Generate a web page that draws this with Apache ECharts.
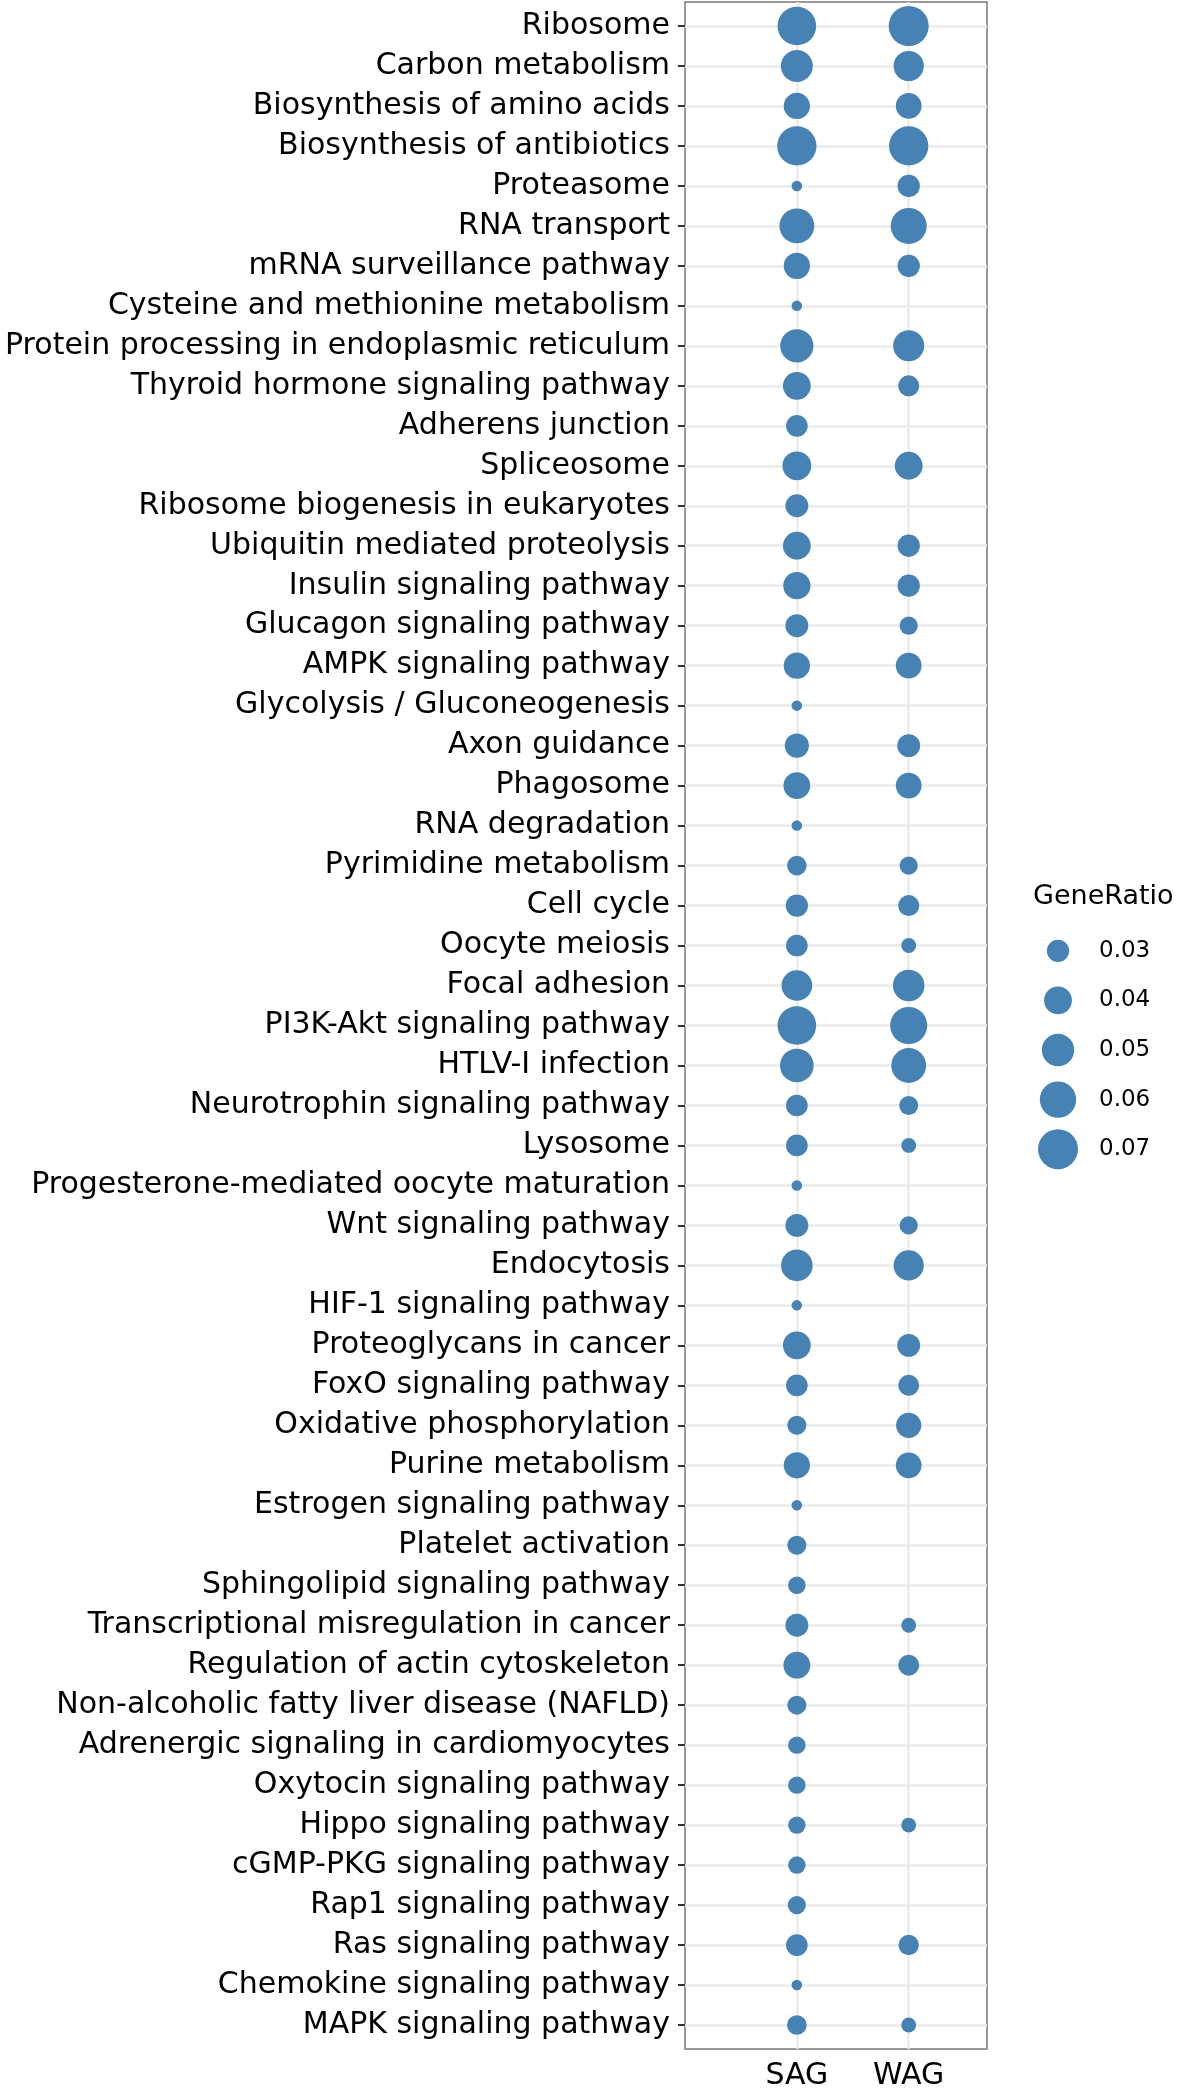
<!DOCTYPE html>
<html>
<head>
<meta charset="utf-8">
<title>KEGG enrichment dot plot</title>
<script src="https://cdn.jsdelivr.net/npm/echarts@6/dist/echarts.min.js"></script>
<style>
html, body { margin: 0; padding: 0; background: #fff; }
#main { width: 1179px; height: 2091px; }
</style>
</head>
<body>
<div id="main"></div>
<script>
// pathway names, top to bottom
const pathways = [
    'Ribosome', 'Carbon metabolism', 'Biosynthesis of amino acids', 'Biosynthesis of antibiotics',
    'Proteasome', 'RNA transport', 'mRNA surveillance pathway', 'Cysteine and methionine metabolism',
    'Protein processing in endoplasmic reticulum', 'Thyroid hormone signaling pathway', 'Adherens junction',
    'Spliceosome', 'Ribosome biogenesis in eukaryotes', 'Ubiquitin mediated proteolysis',
    'Insulin signaling pathway', 'Glucagon signaling pathway', 'AMPK signaling pathway',
    'Glycolysis / Gluconeogenesis', 'Axon guidance', 'Phagosome', 'RNA degradation',
    'Pyrimidine metabolism', 'Cell cycle', 'Oocyte meiosis', 'Focal adhesion',
    'PI3K-Akt signaling pathway', 'HTLV-I infection', 'Neurotrophin signaling pathway', 'Lysosome',
    'Progesterone-mediated oocyte maturation', 'Wnt signaling pathway', 'Endocytosis',
    'HIF-1 signaling pathway', 'Proteoglycans in cancer', 'FoxO signaling pathway',
    'Oxidative phosphorylation', 'Purine metabolism', 'Estrogen signaling pathway',
    'Platelet activation', 'Sphingolipid signaling pathway', 'Transcriptional misregulation in cancer',
    'Regulation of actin cytoskeleton', 'Non-alcoholic fatty liver disease (NAFLD)',
    'Adrenergic signaling in cardiomyocytes', 'Oxytocin signaling pathway', 'Hippo signaling pathway',
    'cGMP-PKG signaling pathway', 'Rap1 signaling pathway', 'Ras signaling pathway',
    'Chemokine signaling pathway', 'MAPK signaling pathway'
];
const groups = ['SAG', 'WAG'];

// GeneRatio per pathway (null = not enriched)
const sagRatio = [
    0.066, 0.049, 0.037, 0.068, 0.016, 0.056, 0.037, 0.016, 0.052, 0.040,
    0.029, 0.042, 0.031, 0.040, 0.039, 0.031, 0.037, 0.016, 0.033, 0.038,
    0.016, 0.026, 0.030, 0.029, 0.046, 0.066, 0.053, 0.029, 0.029, 0.016,
    0.031, 0.048, 0.016, 0.040, 0.029, 0.025, 0.037, 0.016, 0.025, 0.023,
    0.031, 0.038, 0.025, 0.023, 0.023, 0.023, 0.023, 0.024, 0.029, 0.016,
    0.026
];
const wagRatio = [
    0.070, 0.045, 0.036, 0.068, 0.030, 0.059, 0.030, null, 0.047, 0.028,
    null, 0.040, null, 0.030, 0.030, 0.024, 0.036, null, 0.031, 0.036,
    null, 0.024, 0.028, 0.020, 0.048, 0.062, 0.056, 0.025, 0.020, null,
    0.024, 0.045, null, 0.031, 0.028, 0.035, 0.036, null, null, null,
    0.020, 0.028, null, null, null, 0.020, null, null, 0.027, null,
    0.020
];
const legendValues = [0.03, 0.04, 0.05, 0.06, 0.07];

// size scale: diameter^2 grows linearly with GeneRatio
function dotSize(v) {
    return Math.sqrt(Math.max(27600 * v - 331, 16));
}

let points = [];
pathways.forEach((p, i) => {
    [sagRatio, wagRatio].forEach((arr, g) => {
        if (arr[i] != null) {
            points.push([g + 1, i, arr[i]]);
        }
    });
});

const font = 'DejaVu Sans';
const rowIdx = pathways.map((p, i) => i);

var chart = echarts.init(document.getElementById('main'));
var option = {
    animation: false,
    backgroundColor: '#fff',
    textStyle: { fontFamily: font },
    title: {
        text: 'GeneRatio',
        left: 1033,
        top: 883,
        padding: 0,
        textStyle: { fontFamily: font, fontSize: 27, fontWeight: 'normal', color: '#000' }
    },
    grid: [
        {
            left: 685, top: 2, width: 302, height: 2047,
            show: true, borderColor: '#7a7a7a', borderWidth: 1.5, backgroundColor: 'transparent'
        },
        { left: 1040, top: 926, width: 36, height: 248 }
    ],
    xAxis: [
        {
            type: 'value', gridIndex: 0, min: 0, max: 2.7,
            axisLine: { show: false },
            axisTick: { customValues: [1, 2], length: 7, lineStyle: { color: '#333', width: 2 } },
            axisLabel: {
                customValues: [1, 2],
                formatter: v => groups[v - 1],
                fontFamily: font, fontSize: 30, color: '#000', margin: 12
            },
            splitLine: { show: true, lineStyle: { color: '#ebebeb', width: 2.5 } }
        },
        { type: 'category', gridIndex: 1, data: ['k'], show: false }
    ],
    yAxis: [
        {
            type: 'value', gridIndex: 0, inverse: true,
            min: -0.6, max: pathways.length - 0.4,
            axisLine: { show: false },
            axisTick: { customValues: rowIdx, length: 7, lineStyle: { color: '#333', width: 2 } },
            axisLabel: {
                customValues: rowIdx,
                formatter: v => pathways[v],
                fontFamily: font, fontSize: 30, color: '#000', margin: 15
            },
            splitLine: { show: true, lineStyle: { color: '#ebebeb', width: 2.5 } }
        },
        {
            type: 'category', gridIndex: 1, inverse: true, position: 'right',
            data: legendValues.map(v => v.toFixed(2)),
            axisLine: { show: false },
            axisTick: { show: false },
            axisLabel: { fontFamily: font, fontSize: 23, color: '#000', margin: 23 }
        }
    ],
    series: [
        {
            type: 'scatter', xAxisIndex: 0, yAxisIndex: 0,
            data: points,
            symbolSize: d => dotSize(d[2]),
            itemStyle: { color: '#4682B4', opacity: 1 }
        },
        {
            type: 'scatter', xAxisIndex: 1, yAxisIndex: 1,
            data: legendValues.map((v, i) => [0, i, v]),
            symbolSize: d => dotSize(d[2]),
            itemStyle: { color: '#4682B4', opacity: 1 }
        }
    ]
};
chart.setOption(option);
</script>
</body>
</html>
